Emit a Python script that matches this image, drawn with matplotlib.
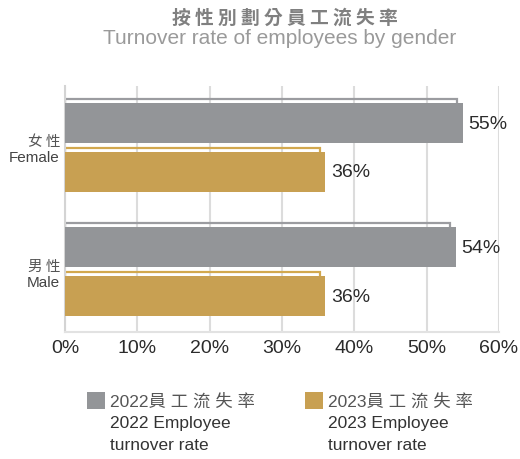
import matplotlib
matplotlib.use("Agg")
import matplotlib.pyplot as plt
from matplotlib.patches import Rectangle
from matplotlib.transforms import blended_transform_factory
import numpy as np

plt.rcParams["font.family"] = ["Liberation Sans", "Noto Sans CJK TC", "DejaVu Sans"]

# Data
groups_zh = ["女 性", "男 性"]
groups_en = ["Female", "Male"]
rate_2022 = [55, 54]
rate_2023 = [36, 36]
xticks = [0, 10, 20, 30, 40, 50, 60]
legend_zh = ["2022員 工 流 失 率", "2023員 工 流 失 率"]
legend_en = [["2022 Employee", "turnover rate"], ["2023 Employee", "turnover rate"]]

c22 = "#939598"
c23 = "#C8A052"
c22_edge = "#9b9ca0"
c23_edge = "#D2A84E"

W, H = 520, 460
fig = plt.figure(figsize=(W / 100, H / 100), dpi=100)


def fx(px):
    return px / W


def fy(py):
    return 1 - py / H


ax = fig.add_axes([fx(65), fy(333), fx(499) - fx(65), fy(87) - fy(333)])

# group spacing: 1 unit = 124.5 px
unit = 124.5
ax.set_ylim(1.482, -0.494)
ax.set_xlim(0, 60)

bar_h = 40 / unit
off = 24.5 / unit
lift = 4.5 / unit
shrink = 0.8

ypos = np.arange(len(groups_en))
for i, y in enumerate(ypos):
    for val, dy, fc, ec in [(rate_2022[i], -off, c22, c22_edge), (rate_2023[i], off, c23, c23_edge)]:
        yc = y + dy
        # offset outline behind the bar
        ax.add_patch(Rectangle((0, yc - bar_h / 2 - lift), val - shrink, bar_h,
                               facecolor="none", edgecolor=ec, linewidth=1.6, zorder=2))
        ax.barh(yc, val, height=bar_h, color=fc, zorder=3)
        ax.annotate(f"{val}%", (val, yc), xytext=(4, 0), textcoords="offset points",
                    ha="left", va="center", fontsize=14, color="#2b2b2b")

ax.set_xticks(xticks)
ax.set_xticklabels([f"{t}%" for t in xticks], fontsize=14, color="#2b2b2b")
ax.set_yticks([])
ax.tick_params(axis="x", length=0, pad=5)
ax.grid(axis="x", color="#dcdcdc", linewidth=1.5, zorder=0)
ax.set_axisbelow(True)
for s in ["top", "right"]:
    ax.spines[s].set_visible(False)
ax.spines["left"].set_color("#d4d4d4")
ax.spines["left"].set_linewidth(1.5)
ax.spines["bottom"].set_color("#e2e2e2")
ax.spines["bottom"].set_linewidth(1.5)

# category labels
tr = blended_transform_factory(fig.transFigure, ax.transData)
for i, y in enumerate(ypos):
    ax.text(fx(60), y - 6.5 / unit, groups_zh[i], transform=tr, ha="right", va="center",
            fontsize=10.5, color="#555555", family=["Noto Sans CJK TC"])
    ax.text(fx(60), y + 10 / unit, groups_en[i], transform=tr, ha="right", va="center",
            fontsize=11, color="#444444")

# titles
fig.text(fx(285), fy(18), "按 性 別 劃 分 員 工 流 失 率", ha="center", va="center",
         fontsize=13.5, color="#808080", fontweight="bold", family=["Noto Sans CJK TC"])
fig.text(fx(280), fy(38), "Turnover rate of employees by gender", ha="center", va="center",
         fontsize=15, color="#9a9a9a")

# legend
for sq_x, txt_x, fc, zh, en in [(87, 110, c22, legend_zh[0], legend_en[0]),
                                (305, 328, c23, legend_zh[1], legend_en[1])]:
    fig.patches.append(Rectangle((fx(sq_x), fy(410)), fx(18), 17 / H, facecolor=fc,
                                 transform=fig.transFigure, figure=fig))
    fig.text(fx(txt_x), fy(402), zh, ha="left", va="center", fontsize=12.5, color="#555555")
    fig.text(fx(txt_x), fy(424), en[0], ha="left", va="center", fontsize=12.5, color="#333333")
    fig.text(fx(txt_x), fy(446), en[1], ha="left", va="center", fontsize=12.5, color="#333333")

fig.savefig("out.png", dpi=100)
